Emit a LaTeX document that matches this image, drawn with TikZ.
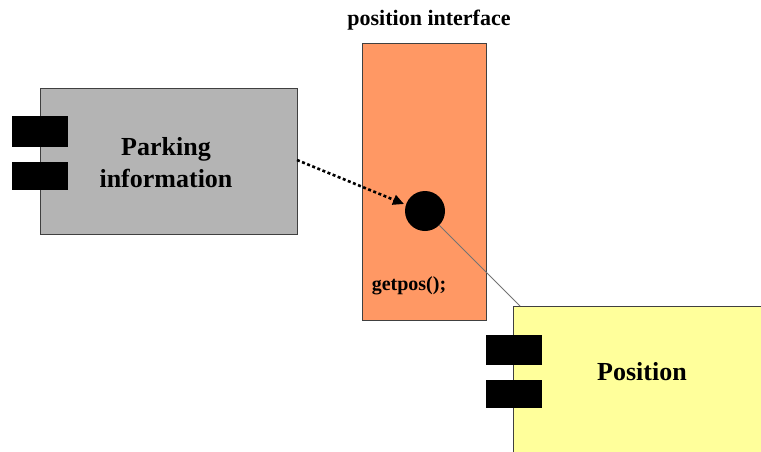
\documentclass[tikz,border=0pt]{standalone}
\usepackage{fontspec}
\setmainfont{Liberation Serif}
\usetikzlibrary{arrows.meta}
\definecolor{compgray}{RGB}{180,180,180}
\definecolor{ifaceorange}{RGB}{255,152,100}
\definecolor{compyellow}{RGB}{255,255,155}
\begin{document}
\begin{tikzpicture}[x=1pt,y=-1pt,
  comp/.style={draw=black!75,line width=0.8pt},
  port/.style={fill=black,draw=none},
  lbl/.style={font=\bfseries\fontsize{26}{32}\selectfont,align=center},
  small/.style={font=\bfseries\fontsize{20}{22}\selectfont}]
\useasboundingbox (0,0) rectangle (761,451);

% components
\path[comp,fill=compgray] (40,88) rectangle (297,234);
\node (parkbox) at (168.5,161) [minimum width=257pt,minimum height=146pt,inner sep=0] {};
\path[comp,fill=ifaceorange] (362,43) rectangle (486,320);
\node (ifacebox) at (424,181.5) [minimum width=124pt,minimum height=277pt,inner sep=0] {};
\path[comp,fill=compyellow] (513,306) rectangle (765,455);
\node[coordinate] (posnw) at (520,306) {};

% ports
\path[port] (12,116) rectangle (68,147);
\path[port] (12,162) rectangle (68,190);
\path[port] (486,335) rectangle (542,365);
\path[port] (486,380) rectangle (542,408);

% labels
\node[lbl] (parktxt) at (166,163) {Parking\\information};
\node[lbl] (postxt) at (642,372) {Position};
\node[small,font=\bfseries\fontsize{22}{24}\selectfont] (ifacetxt) at (429,20) {position interface};
\node[small] (gettxt) at (409,286) {getpos();};

% provided interface
\node[circle,fill=black,minimum size=40pt,inner sep=0] (ball) at (425,211) {};
\coordinate (dstart) at (297,160);
\coordinate (dend) at (404,204);

% connectors
\draw[black!55,line width=0.9pt] (ball) -- (posnw);
\draw[line width=2.6pt,dash pattern=on 3pt off 2.5pt,-{Triangle[length=11pt,width=10pt]}] (dstart) -- (dend);
\end{tikzpicture}
\end{document}
